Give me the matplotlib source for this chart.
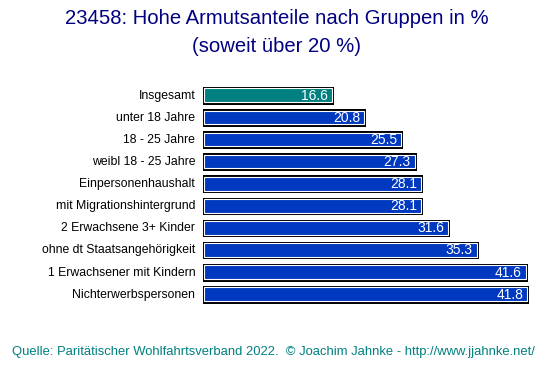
import matplotlib.pyplot as plt
from matplotlib.patches import Rectangle

plt.rcParams['font.family'] = ['Liberation Sans', 'DejaVu Sans']

gruppen = ['Insgesamt', 'unter 18 Jahre', '18 - 25 Jahre', 'weibl 18 - 25 Jahre',
           'Einpersonenhaushalt', 'mit Migrationshintergrund', '2 Erwachsene 3+ Kinder',
           'ohne dt Staatsangehörigkeit', '1 Erwachsener mit Kindern', 'Nichterwerbspersonen']
werte = [16.6, 20.8, 25.5, 27.3, 28.1, 28.1, 31.6, 35.3, 41.6, 41.8]
farben = ['#008080'] + ['#0038C0'] * 9

fig = plt.figure(figsize=(5.53, 3.76), dpi=100)
# Achse: x von 203 px bis 552 px, y von Balken 1 bis Balken 10
ax = fig.add_axes([203 / 553, 1 - 305 / 376, 349 / 553, (305 - 84) / 376])
ax.set_xlim(0, 45)
ax.set_ylim(len(werte) - 0.5, -0.5)
ax.axis('off')

h = 0.72
for i, (w, c) in enumerate(zip(werte, farben)):
    # schwarzer Rahmen mit kleinem Schatten
    ax.add_patch(Rectangle((0, i - h / 2), w + 0.25, h + 0.08, facecolor='black', edgecolor='none'))
    ax.add_patch(Rectangle((0.1, i - h / 2 + 0.06), w - 0.1, h - 0.1, facecolor=c,
                           edgecolor='white', linewidth=0.8))
    ax.text(w - 0.5, i + 0.03, f'{w:.1f}', color='white', fontsize=10, ha='right', va='center')
    ax.text(-1.0, i + 0.03, gruppen[i], color='black', fontsize=8.8, ha='right', va='center')

fig.text(0.5, 1 - 19 / 376, '23458: Hohe Armutsanteile nach Gruppen in %', color='#000080',
         fontsize=14.6, ha='center', va='center')
fig.text(0.5, 1 - 46 / 376, '(soweit über 20 %)', color='#000080',
         fontsize=14.6, ha='center', va='center')
fig.text(12 / 553, 1 - 352 / 376,
         'Quelle: Paritätischer Wohlfahrtsverband 2022.  © Joachim Jahnke - http://www.jjahnke.net/',
         color='#008080', fontsize=9.4, ha='left', va='center')

fig.savefig('out.png', dpi=100)
